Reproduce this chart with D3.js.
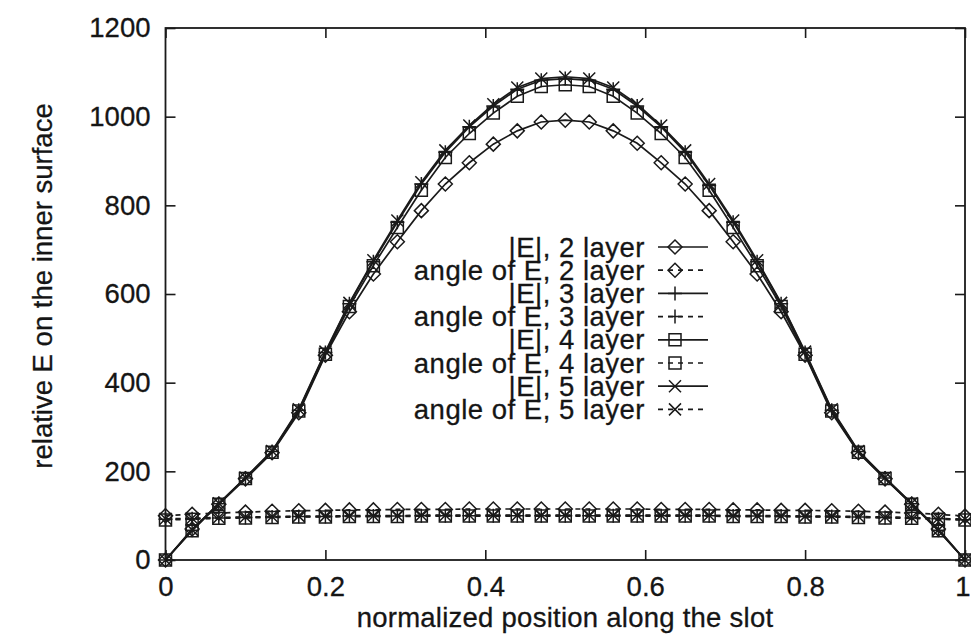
<!DOCTYPE html>
<html>
<head>
<meta charset="utf-8">
<script src="https://cdn.jsdelivr.net/npm/d3@7"></script>
<style>
  body { margin: 0; background: #fff; }
  text { font-family: "Liberation Sans", Arial, sans-serif; fill: #151515; stroke: #151515; stroke-width: 0.3px; }
</style>
</head>
<body>
<svg id="chart" width="971" height="636"></svg>
<script>
// Mesh nodes along the slot (normalized position)
const positions = [0, 0.0333, 0.0667, 0.1, 0.1333, 0.1667, 0.2, 0.23, 0.26, 0.29, 0.32, 0.35, 0.38, 0.41, 0.44, 0.47, 0.5,
                   0.53, 0.56, 0.59, 0.62, 0.65, 0.68, 0.71, 0.74, 0.77, 0.8, 0.8333, 0.8667, 0.9, 0.9333, 0.9667, 1];

// |E| on the inner surface for each layer count
const magLayer2 = [0, 70, 126, 183, 242, 332, 462, 560, 645, 718, 788, 848, 896, 938, 968, 988, 992,
                   988, 968, 940, 896, 848, 788, 718, 645, 560, 462, 332, 242, 183, 126, 70, 0];
const magLayer3 = [0, 67, 127, 185, 245, 338, 468, 578, 673, 762, 848, 920, 977, 1024, 1062, 1082, 1086,
                   1082, 1062, 1024, 977, 920, 845, 762, 673, 578, 468, 338, 245, 185, 127, 67, 0];
const magLayer4 = [0, 66, 126, 184, 243, 336, 464, 572, 664, 750, 834, 908, 962, 1008, 1046, 1068, 1072,
                   1068, 1046, 1008, 962, 908, 834, 750, 664, 572, 464, 336, 243, 184, 126, 66, 0];
const magLayer5 = [0, 68, 128, 186, 246, 340, 470, 580, 676, 766, 852, 924, 980, 1028, 1066, 1086, 1090,
                   1086, 1066, 1028, 980, 924, 848, 766, 676, 580, 470, 340, 246, 186, 128, 68, 0];

// angle of E for each layer count
const angleLayer2 = [100, 103, 106, 108, 110, 111, 112, 113, 113, 114, 114, 114, 115, 115, 115, 115, 115,
                     115, 115, 115, 114, 114, 114, 113, 113, 112, 112, 111, 110, 108, 106, 103, 99];
const angleLayer3 = [92, 93, 95, 96, 97, 98, 98, 99, 99, 99, 100, 100, 100, 100, 100, 100, 100,
                     100, 100, 100, 100, 100, 100, 99, 99, 99, 98, 98, 97, 96, 95, 93, 91];
const angleLayer4 = [90, 92, 94, 95, 96, 97, 97, 98, 98, 98, 99, 99, 99, 99, 99, 99, 99,
                     99, 99, 99, 99, 99, 99, 98, 98, 98, 97, 97, 96, 95, 94, 92, 90];
const angleLayer5 = [93, 94, 96, 97, 98, 99, 99, 100, 100, 100, 101, 101, 101, 101, 101, 101, 101,
                     101, 101, 101, 101, 101, 101, 100, 100, 100, 99, 99, 98, 97, 96, 94, 92];

const xTicks = [0, 0.2, 0.4, 0.6, 0.8, 1];
const xTickLabels = ["0", "0.2", "0.4", "0.6", "0.8", "1"];
const yTicks = [0, 200, 400, 600, 800, 1000, 1200];
const yTickLabels = ["0", "200", "400", "600", "800", "1000", "1200"];

const seriesNames = ["|E|, 2 layer", "angle of E, 2 layer", "|E|, 3 layer", "angle of E, 3 layer",
                     "|E|, 4 layer", "angle of E, 4 layer", "|E|, 5 layer", "angle of E, 5 layer"];
const seriesValues = [magLayer2, angleLayer2, magLayer3, angleLayer3, magLayer4, angleLayer4, magLayer5, angleLayer5];
const seriesMarker = ["diamond", "diamond", "plus", "plus", "square", "square", "cross", "cross"];
const seriesDashed = [false, true, false, true, false, true, false, true];

const xAxisTitle = "normalized position along the slot";
const yAxisTitle = "relative E on the inner surface";

const svg = d3.select("#chart");
const plotLeft = 165.5, plotRight = 965, plotTop = 28, plotBottom = 560;
const ink = "#1a1a1a";
const fontSize = "27.5px";

const x = d3.scaleLinear().domain([0, 1]).range([plotLeft, plotRight]);
const y = d3.scaleLinear().domain([0, 1200]).range([plotBottom, plotTop]);

// axes with inward ticks on all four sides
const tickLen = 10;
const gx = svg.append("g").attr("transform", `translate(0,${plotBottom})`)
  .call(d3.axisBottom(x).tickValues(xTicks).tickSizeInner(-tickLen).tickSizeOuter(0).tickPadding(16)
    .tickFormat((d, i) => xTickLabels[i]));
const gy = svg.append("g").attr("transform", `translate(${plotLeft},0)`)
  .call(d3.axisLeft(y).tickValues(yTicks).tickSizeInner(-tickLen).tickSizeOuter(0).tickPadding(15)
    .tickFormat((d, i) => yTickLabels[i]));
const gt = svg.append("g").attr("transform", `translate(0,${plotTop})`)
  .call(d3.axisTop(x).tickValues(xTicks).tickSizeInner(-tickLen).tickSizeOuter(0).tickFormat(""));
const gr = svg.append("g").attr("transform", `translate(${plotRight},0)`)
  .call(d3.axisRight(y).tickValues(yTicks).tickSizeInner(-tickLen).tickSizeOuter(0).tickFormat(""));

[gx, gy, gt, gr].forEach(g => {
  g.select(".domain").remove();
  g.selectAll(".tick line").attr("stroke", ink).attr("stroke-width", 1.6);
  g.selectAll(".tick text").style("font-family", '"Liberation Sans", Arial, sans-serif')
    .style("font-size", fontSize).attr("fill", ink);
});
gx.selectAll(".tick text").attr("dy", "0.71em");
// keep the last x label inside the page edge
gx.selectAll(".tick text").filter((d, i) => i === xTicks.length - 1)
  .attr("text-anchor", "end").attr("x", 970 - x(1));

svg.append("rect").attr("x", plotLeft).attr("y", plotTop)
  .attr("width", plotRight - plotLeft).attr("height", plotBottom - plotTop)
  .attr("fill", "none").attr("stroke", ink).attr("stroke-width", 1.8);

// axis titles
svg.append("text").attr("x", 565).attr("y", 627).attr("text-anchor", "middle")
  .style("font-size", fontSize).style("letter-spacing", "0.25px").text(xAxisTitle);
svg.append("text").attr("transform", "translate(42,286) rotate(-90)")
  .attr("text-anchor", "middle").attr("dy", "0.35em")
  .style("font-size", fontSize).text(yAxisTitle);

// marker shapes
function markerPath(type, cx, cy) {
  const p = d3.path();
  if (type === "diamond") {
    const r = 7;
    p.moveTo(cx, cy - r); p.lineTo(cx + r, cy); p.lineTo(cx, cy + r); p.lineTo(cx - r, cy); p.closePath();
  } else if (type === "square") {
    const r = 6;
    p.rect(cx - r, cy - r, 2 * r, 2 * r);
  } else if (type === "plus") {
    const r = 7;
    p.moveTo(cx - r, cy); p.lineTo(cx + r, cy); p.moveTo(cx, cy - r); p.lineTo(cx, cy + r);
  } else {
    const r = 6;
    p.moveTo(cx - r, cy - r); p.lineTo(cx + r, cy + r); p.moveTo(cx - r, cy + r); p.lineTo(cx + r, cy - r);
  }
  return p.toString();
}

const line = d3.line().x(d => x(d[0])).y(d => y(d[1]));
const plot = svg.append("g");

// draw angle series first, then the magnitudes on top
const order = [1, 3, 5, 7, 0, 2, 4, 6];
order.forEach(k => {
  const pts = positions.map((p, i) => [p, seriesValues[k][i]]);
  plot.append("path").attr("d", line(pts))
    .attr("fill", "none").attr("stroke", ink).attr("stroke-width", 1.7)
    .attr("stroke-dasharray", seriesDashed[k] ? "5,5" : null);
  plot.append("path")
    .attr("d", pts.map(d => markerPath(seriesMarker[k], x(d[0]), y(d[1]))).join(""))
    .attr("fill", "none").attr("stroke", ink).attr("stroke-width", 1.5);
});

// legend
const legend = svg.append("g");
const legTextX = 645, legLineX0 = 658, legLineX1 = 708, legMarkX = 675, legY0 = 247, legDy = 23.2;
seriesNames.forEach((name, k) => {
  const cy = legY0 + k * legDy;
  legend.append("text").attr("x", legTextX).attr("y", cy).attr("dy", "0.35em")
    .attr("text-anchor", "end").style("font-size", fontSize).style("letter-spacing", "0.5px").text(name);
  legend.append("line").attr("x1", legLineX0).attr("x2", legLineX1).attr("y1", cy).attr("y2", cy)
    .attr("stroke", ink).attr("stroke-width", 1.7)
    .attr("stroke-dasharray", seriesDashed[k] ? "5,5" : null);
  legend.append("path").attr("d", markerPath(seriesMarker[k], legMarkX, cy))
    .attr("fill", "none").attr("stroke", ink).attr("stroke-width", 1.5);
});
</script>
</body>
</html>
